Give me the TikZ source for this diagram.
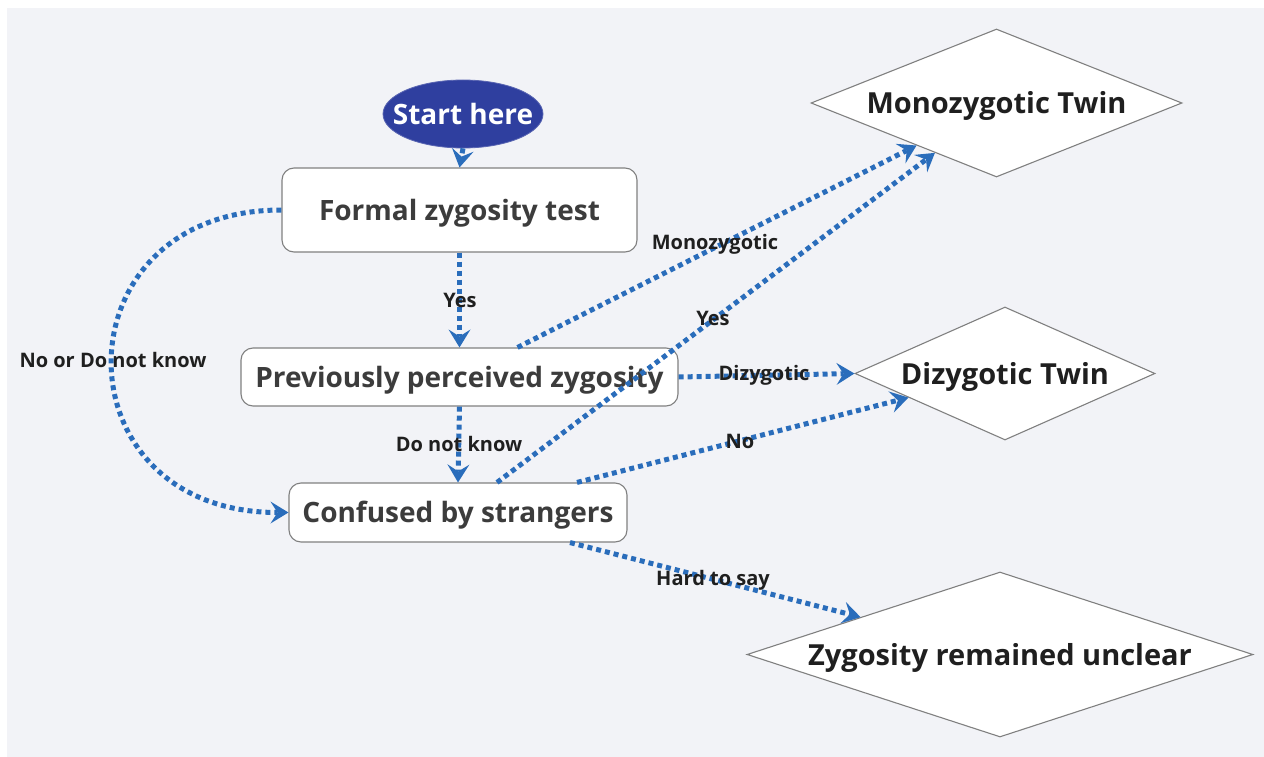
\documentclass[tikz,border=0pt]{standalone}
\usepackage{fontspec}
\setmainfont{Open Sans}
\usetikzlibrary{arrows.meta,shapes.geometric}
\definecolor{bgc}{HTML}{F2F3F7}
\definecolor{flow}{HTML}{2A6DBB}
\definecolor{startc}{HTML}{2F3F9F}
\definecolor{boxtxt}{HTML}{3C3C3C}
\definecolor{boxline}{HTML}{808080}
\newcommand{\lowertxt}[1]{\raisebox{-3pt}[\height][\depth]{#1}}
\tikzset{
  x=1pt, y=-1pt,
  flowline/.style={draw=flow, line width=5pt, dash pattern=on 5pt off 4pt,
    -{Stealth[length=18pt,width=22pt,inset=7pt,line width=0pt]}},
  stepbox/.style={draw=boxline, line width=1.1pt, fill=white, rounded corners=12pt,
    text=boxtxt, font=\fontsize{28}{32}\selectfont\bfseries, inner sep=0pt},
  outcome/.style={diamond, draw=boxline, line width=1.1pt, fill=white, inner sep=0pt,
    text=black!88, font=\fontsize{29}{33}\selectfont\bfseries},
  lab/.style={text=black!88, font=\fontsize{20}{24}\selectfont\bfseries, inner sep=0pt},
}
\begin{document}
\begin{tikzpicture}
\useasboundingbox (0,0) rectangle (1264,757);
\fill[white] (0,0) rectangle (1264,757);
\fill[bgc] (7,8) rectangle (1264,757);

\node[ellipse, fill=startc, draw=startc!80!white, line width=0.8pt, minimum width=160pt, minimum height=68pt,
  inner sep=0pt, text=white, font=\fontsize{28}{32}\selectfont\bfseries] (start) at (463,114) {\makebox[0pt]{Start here}};

\node[stepbox, minimum width=355pt, minimum height=84pt] (formal) at (459.5,210) {\lowertxt{Formal zygosity test}};
\node[stepbox, minimum width=437pt, minimum height=58pt] (prev) at (459.5,377) {\lowertxt{Previously perceived zygosity}};
\node[stepbox, minimum width=338pt, minimum height=59pt] (conf) at (458,512.5) {\lowertxt{Confused by strangers}};

\node[outcome, shape aspect=2.507, minimum width=371pt, minimum height=148pt] (mono) at (996.5,103) {\lowertxt{Monozygotic Twin}};
\node[outcome, shape aspect=2.256, minimum width=300pt, minimum height=133pt] (dizy) at (1005,373.5) {\lowertxt{Dizygotic Twin}};
\node[outcome, shape aspect=3.067, minimum width=506pt, minimum height=165pt] (unc) at (1000,654.5) {\lowertxt{Zygosity remained unclear}};

\draw[flowline] (start.south) -- (formal.north);
\draw[flowline] (formal.south) -- (prev.north);
\draw[flowline] (prev.south) -- (conf.north);
\draw[flowline] (formal.west) .. controls (55,210) and (55,512.5) .. (conf.west);
\draw[flowline] ([xshift=58pt]prev.north) -- (mono.208);
\draw[flowline] ([xshift=39pt]conf.north) -- (mono.219);
\draw[flowline] (prev.east) -- (dizy.west);
\draw[flowline] ([xshift=119pt]conf.north) -- (dizy.194);
\draw[flowline] ([xshift=112pt]conf.south) -- (unc.165);

\node[lab] (l1) at (460,300) {Yes};
\node[lab] (l2) at (459,444) {Do not know};
\node[lab] (l3) at (113,360) {No or Do not know};
\node[lab] (l4) at (715,244) {Monozygotic};
\node[lab] (l5) at (713,318) {Yes};
\node[lab] (l6) at (764,375) {Dizygotic};
\node[lab] (l7) at (740,441) {No};
\node[lab] (l8) at (713,580) {Hard to say};
\end{tikzpicture}
\end{document}
